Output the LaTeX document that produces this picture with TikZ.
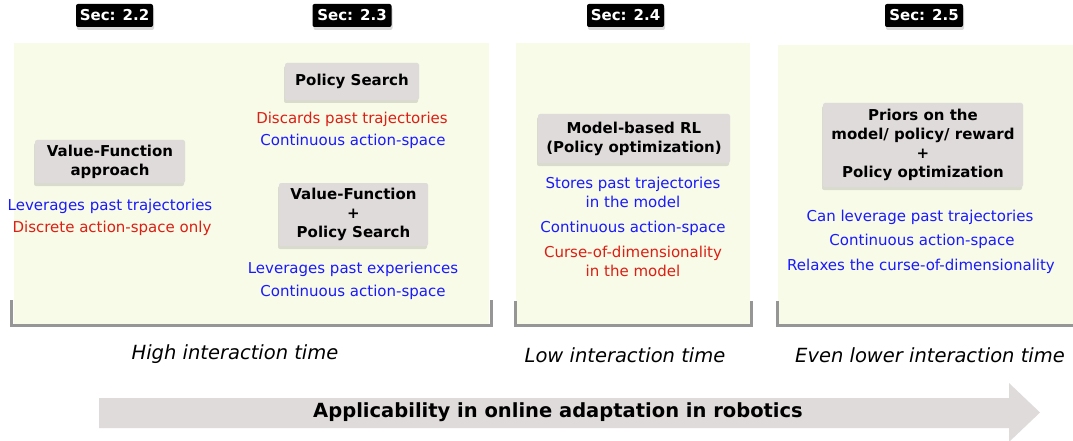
\documentclass[tikz,border=0pt]{standalone}
\usepackage{fontspec}
\setmainfont{DejaVu Sans}
\usetikzlibrary{shadows}
\definecolor{panelbg}{RGB}{248,251,231}
\definecolor{boxgray}{RGB}{224,219,219}
\definecolor{arrowgray}{RGB}{224,219,219}
\definecolor{bracketgray}{RGB}{150,150,150}
\definecolor{goodblue}{RGB}{25,25,255}
\definecolor{badred}{RGB}{220,30,20}
\tikzset{
  secbox/.style={fill=black, text=white, rounded corners=2pt, font=\bfseries\fontsize{15}{18}\selectfont,
    minimum height=23pt, inner sep=0pt, drop shadow={shadow xshift=1pt, shadow yshift=-3pt, opacity=0.3}},
  methbox/.style={fill=boxgray, rounded corners=2pt, align=center, font=\bfseries\fontsize{15}{19}\selectfont,
    inner sep=0pt, drop shadow={shadow xshift=-1pt, shadow yshift=-3pt, opacity=0.25}},
  good/.style={text=goodblue, font=\fontsize{15}{19}\selectfont, align=center, inner sep=0pt},
  bad/.style={text=badred, font=\fontsize{15}{19}\selectfont, align=center, inner sep=0pt},
  panel/.style={fill=panelbg},
  bracket/.style={draw=bracketgray, line width=3pt},
  timelabel/.style={font=\itshape\fontsize{19.5}{23}\selectfont, inner sep=0pt},
  arrowtitle/.style={font=\bfseries\fontsize{19.5}{23}\selectfont, inner sep=0pt},
}
\begin{document}
\begin{tikzpicture}[x=1pt, y=-1pt]
\useasboundingbox (0,0) rectangle (1073,441);
% panels
\fill[panel] (14,43) rectangle (489,325);
\fill[panel] (516,43) rectangle (750,325);
\fill[panel] (778,45) rectangle (1073,325);
\draw[bracket] (11,300) -- (11,325) -- (491,325) -- (491,300);
\draw[bracket] (515,301) -- (515,325) -- (751,325) -- (751,301);
\draw[bracket] (777,301) -- (777,325) -- (1075,325);
% section labels
\node[secbox, minimum width=77pt] (s22) at (114.5,15.5) {Sec: 2.2};
\node[secbox, minimum width=79pt] (s23) at (352,15.5) {Sec: 2.3};
\node[secbox, minimum width=77pt] (s24) at (625.5,15.5) {Sec: 2.4};
\node[secbox, minimum width=78pt] (s25) at (924,15.5) {Sec: 2.5};
% method boxes
\node[methbox, minimum width=150pt, minimum height=43pt] (vf) at (110,161.5) {Value-Function\\approach};
\node[methbox, minimum width=134pt, minimum height=37pt] (ps) at (352,81.5) {Policy Search};
\node[methbox, minimum width=149pt, minimum height=63pt] (vfps) at (353.5,214.5) {Value-Function\\+\\Policy Search};
\node[methbox, minimum width=192pt, minimum height=49pt] (mb) at (634,138.5) {Model-based RL\\(Policy optimization)};
\node[methbox, minimum width=200pt, minimum height=84pt] (pr) at (923,145) {Priors on the\\model/ policy/ reward\\+\\Policy optimization};
% annotations
\node[good] (vf1) at (110,206) {Leverages past trajectories};
\node[bad] (vf2) at (112,228) {Discrete action-space only};
\node[bad] (ps1) at (352,119) {Discards past trajectories};
\node[good] (ps2) at (353,141) {Continuous action-space};
\node[good] (vp1) at (353,269) {Leverages past experiences};
\node[good] (vp2) at (353,292) {Continuous action-space};
\node[good] (mb1) at (633,192.5) {Stores past trajectories\\in the model};
\node[good] (mb2) at (633,228) {Continuous action-space};
\node[bad] (mb3) at (633,261) {Curse-of-dimensionality\\in the model};
\node[good] (pr1) at (920,217) {Can leverage past trajectories};
\node[good] (pr2) at (922,241) {Continuous action-space};
\node[good] (pr3) at (921,266) {Relaxes the curse-of-dimensionality};
% interaction time labels
\node[timelabel] (t1) at (235,354) {High interaction time};
\node[timelabel] (t2) at (625,355) {Low interaction time};
\node[timelabel] (t3) at (930,355) {Even lower interaction time};
% big arrow
\fill[arrowgray] (99,398) -- (1009,398) -- (1009,383) -- (1040,412.5) -- (1009,442) -- (1009,428) -- (99,428) -- cycle;
\node[arrowtitle] (app) at (558,412.5) {Applicability in online adaptation in robotics};
\end{tikzpicture}
\end{document}
